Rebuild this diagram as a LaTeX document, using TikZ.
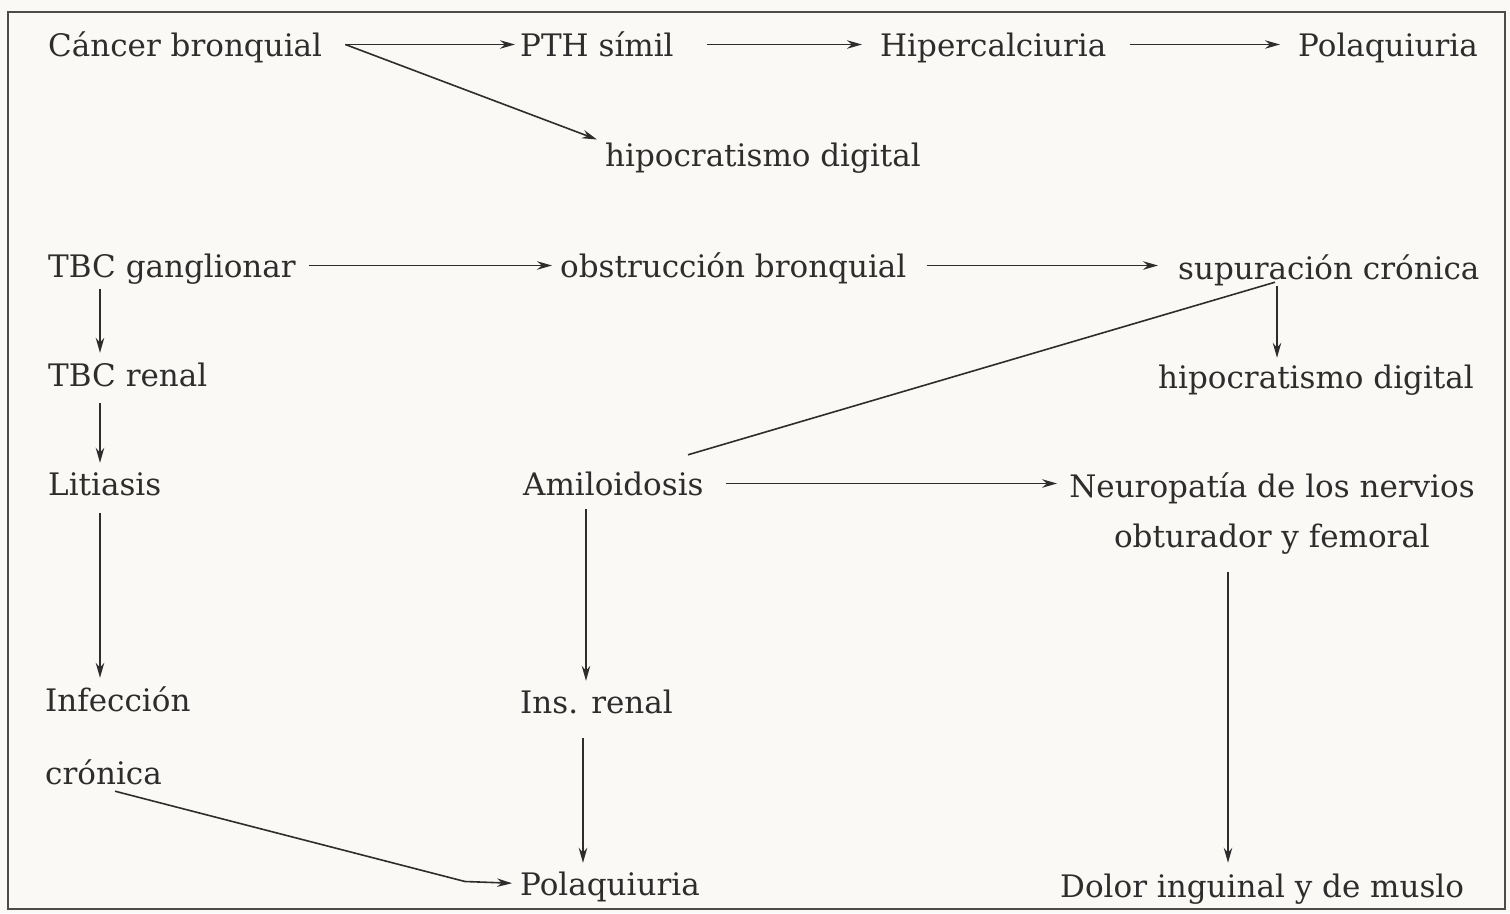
\documentclass[tikz,border=0pt]{standalone}
\usepackage{fontspec}
\setmainfont{DejaVu Serif}
\usetikzlibrary{positioning, arrows.meta}

\definecolor{paper}{RGB}{250,249,246}
\definecolor{ink}{RGB}{45,45,45}

\tikzset{
    term/.style={inner sep=0pt, anchor=base west, text=ink,
                 text height=30pt, text depth=7pt,
                 font=\fontsize{31}{37}\selectfont},
    arr/.style={draw=ink, line width=1.6pt, -{Stealth[length=15pt, width=8.5pt]}},
    link/.style={draw=ink, line width=1.6pt}
}

\begin{document}
\begin{tikzpicture}[x=1pt, y=-1pt]
    \useasboundingbox (0,0) rectangle (1510,913);
    \fill[paper] (0,0) rectangle (1510,913);
    \draw[ink!85, line width=2pt] (8,12) rectangle (1505,909);

    \node[term] (cb) at (48,56) {Cáncer bronquial};
    \node[term] (pth) at (520,56) {PTH símil};
    \node[term] (hyp) at (880,56) {Hipercalciuria};
    \node[term] (pol) at (1298,56) {Polaquiuria};
    \node[term] (hipo) at (605,166) {hipocratismo digital};

    \node[term] (tbcg) at (48,277) {TBC ganglionar};
    \node[term] (obs) at (560,277) {obstrucción bronquial};
    \node[term] (sup) at (1178,279) {supuración crónica};
    \node[term] (tbcr) at (48,386) {TBC renal};
    \node[term] (hipob) at (1158,388) {hipocratismo digital};

    \node[term] (lit) at (48,495) {Litiasis};
    \node[term] (ami) at (523,495) {Amiloidosis};
    \node[inner sep=0pt, align=center, text=ink,
          font=\fontsize{31}{50}\selectfont] (neu) at (1272,514)
          {Neuropatía de los nervios\\obturador y femoral};

    \node[term] (inf) at (45,711) {Infección};
    \node[term] (infc) at (45,784) {crónica};
    \node[term] (insr) at (520,713) {Ins. renal};
    \node[term] (polb) at (520,895) {Polaquiuria};
    \node[term] (dol) at (1060,897) {Dolor inguinal y de muslo};

    % fila superior
    \draw[arr, shorten <=23pt, shorten >=5pt] (cb.east) -- (pth.west);
    \draw[arr] ([xshift=23pt]cb.east) -- ([shift={(-8pt,15pt)}]hipo.west);
    \draw[arr, shorten <=33pt, shorten >=18pt] (pth.east) -- (hyp.west);
    \draw[arr, shorten <=23pt, shorten >=18pt] (hyp.east) -- (pol.west);

    % TBC
    \draw[arr, shorten <=13pt, shorten >=8pt] (tbcg.east) -- (obs.west);
    \draw[arr, shorten <=20pt, shorten >=20pt] (obs.east) -- (sup.west |- obs.east);
    \draw[arr] ([xshift=99pt]sup.south west) -- ([xshift=99pt]sup.south west |- hipob.north);
    \draw[link] ([shift={(165pt,10pt)}]ami.north west) -- ([shift={(97pt,4pt)}]sup.south west);

    \draw[arr, shorten <=5pt, shorten >=3pt] ([xshift=52pt]tbcg.south west) -- ([xshift=52pt]tbcr.north west);
    \draw[arr, shorten <=10pt, shorten >=2pt] ([xshift=52pt]tbcr.south west) -- ([xshift=52pt]lit.north west);
    \draw[arr, shorten <=11pt, shorten >=3pt] ([xshift=52pt]lit.south west) -- ([xshift=52pt]lit.south west |- inf.north);
    \draw[arr, shorten >=8pt] ([xshift=70pt]infc.south west) -- ([shift={(-55pt,2pt)}]polb.west) -- (polb.west);

    % amiloidosis
    \draw[arr, shorten <=22pt, shorten >=12pt] (ami.east) -- (ami.east -| neu.west);
    \draw[arr, shorten <=7pt, shorten >=2pt] ([xshift=63pt]ami.south west) -- ([xshift=63pt]ami.south west |- insr.north);
    \draw[arr, shorten <=18pt, shorten >=2pt] ([xshift=63pt]insr.south west) -- ([xshift=63pt]insr.south west |- polb.north);
    \draw[arr, shorten <=17pt, shorten >=4pt] ([xshift=-44pt]neu.south) -- ([xshift=-44pt]neu.south |- dol.north);
\end{tikzpicture}
\end{document}
